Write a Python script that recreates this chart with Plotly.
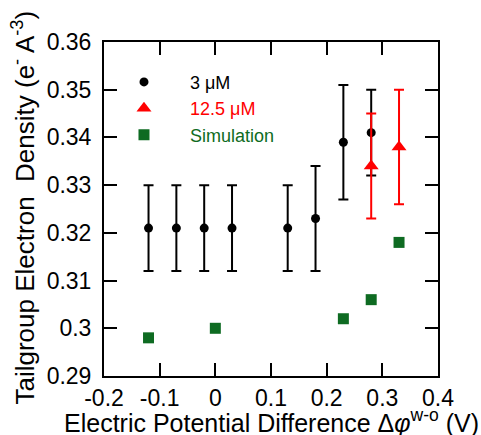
import plotly.graph_objects as go

# data
x_3uM = [-0.12, -0.07, -0.02, 0.03, 0.13, 0.18, 0.23, 0.28]
y_3uM = [0.321, 0.321, 0.321, 0.321, 0.321, 0.323, 0.339, 0.341]
err_3uM = [0.009, 0.009, 0.009, 0.009, 0.009, 0.011, 0.012, 0.009]

x_125uM = [0.28, 0.33]
y_125uM = [0.334, 0.338]
err_125uM = [0.011, 0.012]

x_sim = [-0.12, 0.0, 0.23, 0.28, 0.33]
y_sim = [0.298, 0.300, 0.302, 0.306, 0.318]

x_ticks = [-0.2, -0.1, 0, 0.1, 0.2, 0.3, 0.4]
x_ticklabels = ["-0.2", "-0.1", "0", "0.1", "0.2", "0.3", "0.4"]
y_ticks = [0.29, 0.30, 0.31, 0.32, 0.33, 0.34, 0.35, 0.36]
y_ticklabels = ["0.29", "0.3", "0.31", "0.32", "0.33", "0.34", "0.35", "0.36"]

x_title = "Electric Potential Difference Δ<i>φ</i><sup>w-o</sup> (V)"
y_title = "Tailgroup Electron  Density (e<sup>-</sup> A<sup>-3</sup>)"

RED = "#ff0000"
GREEN = "#0e6b22"
FONT = "Liberation Sans, Arial, sans-serif"

fig = go.Figure()
fig.add_trace(go.Scatter(
    x=x_sim, y=y_sim, mode="markers", name="<span style='color:%s'>Simulation</span>" % GREEN,
    marker=dict(symbol="square", size=11, color=GREEN), legendrank=3))
fig.add_trace(go.Scatter(
    x=x_3uM, y=y_3uM, mode="markers", name="3 μM",
    marker=dict(symbol="circle", size=9, color="black"),
    error_y=dict(type="data", array=err_3uM, color="black", thickness=2, width=5),
    legendrank=1))
fig.add_trace(go.Scatter(
    x=x_125uM, y=y_125uM, mode="markers", name="<span style='color:%s'>12.5 μM</span>" % RED,
    marker=dict(symbol="triangle-up", size=13, color=RED),
    error_y=dict(type="data", array=err_125uM, color=RED, thickness=2, width=5),
    legendrank=2))

axis_common = dict(
    showline=True, linecolor="black", linewidth=2, mirror="allticks",
    ticks="inside", ticklen=13, tickwidth=2, tickcolor="black",
    showgrid=False, zeroline=False, automargin=False,
    tickfont=dict(family=FONT, size=23, color="black"),
)

fig.update_xaxes(range=[-0.2, 0.4], tickvals=x_ticks, ticktext=x_ticklabels,
                 ticklabelstandoff=0, **axis_common)
fig.update_yaxes(range=[0.29, 0.36], tickvals=y_ticks, ticktext=y_ticklabels,
                 ticklabelstandoff=6, **axis_common)

fig.add_annotation(text=x_title, xref="paper", yref="paper", x=0.5, y=-0.135,
                   xanchor="center", yanchor="middle", showarrow=False,
                   font=dict(family=FONT, size=25, color="black"))
fig.add_annotation(text=y_title, xref="paper", yref="paper", x=-0.238, y=0.503,
                   xanchor="center", yanchor="middle", showarrow=False, textangle=-90,
                   font=dict(family=FONT, size=26, color="black"))

fig.update_layout(
    width=481, height=435,
    margin=dict(l=104, r=43, t=42, b=59),
    plot_bgcolor="white", paper_bgcolor="white",
    font=dict(family=FONT, size=18, color="black"),
    showlegend=True,
    legend=dict(x=-0.018, y=0.935, xanchor="left", yanchor="top",
                bgcolor="rgba(0,0,0,0)", font=dict(family=FONT, size=18),
                tracegroupgap=0, itemwidth=82),
)

fig.write_html("out.html")
